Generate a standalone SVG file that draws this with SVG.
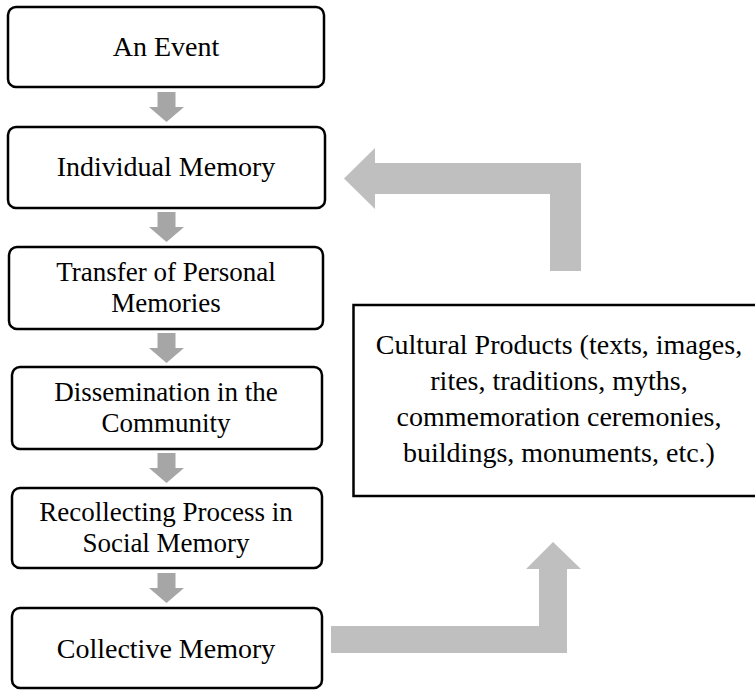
<svg xmlns="http://www.w3.org/2000/svg" width="755" height="690" viewBox="0 0 755 690">
<style>
.box{fill:#fff;stroke:#000;stroke-width:2.5}
.t{font-family:"Liberation Serif","Times New Roman",serif;font-size:28px;fill:#000;text-anchor:middle}
.t2{font-size:27px}
.sa{fill:#a6a6a6}
.ba{fill:#bfbfbf}
</style>
<defs>
<path id="down" d="M-9,0 H9 V15 H17.5 L0,30 L-17.5,15 H-9 Z"/>
</defs>
<rect width="755" height="690" fill="#fff"/>
<g id="connectors">
<use href="#down" class="sa" x="166.5" y="92"/>
<use href="#down" class="sa" x="166.5" y="212"/>
<use href="#down" class="sa" x="166.5" y="333"/>
<use href="#down" class="sa" x="166.5" y="453"/>
<use href="#down" class="sa" x="166.5" y="573"/>
<polygon class="ba" points="344,178.5 375,148 375,163 581,163 581,271 550,271 550,194 375,194 375,209"/>
<polygon class="ba" points="331,626 539,626 539,569 526,569 553,542 581,569 567,569 567,653 331,653"/>
</g>
<g id="n1"><rect class="box" x="8" y="7" width="316" height="80" rx="8"/><text class="t" x="166" y="56">An Event</text></g>
<g id="n2"><rect class="box" x="8" y="127" width="317" height="81" rx="8"/><text class="t" x="166" y="176">Individual Memory</text></g>
<g id="n3"><rect class="box" x="9" y="247" width="314" height="82" rx="8"/><text class="t t2" x="166" y="281">Transfer of Personal</text><text class="t t2" x="166" y="312">Memories</text></g>
<g id="n4"><rect class="box" x="12" y="367" width="310" height="82" rx="8"/><text class="t t2" x="166" y="401">Dissemination in the</text><text class="t t2" x="166" y="432">Community</text></g>
<g id="n5"><rect class="box" x="12" y="488" width="310" height="80" rx="8"/><text class="t t2" x="166" y="521">Recollecting Process in</text><text class="t t2" x="166" y="552">Social Memory</text></g>
<g id="n6"><rect class="box" x="12" y="608" width="310" height="80" rx="8"/><text class="t" x="166" y="658">Collective Memory</text></g>
<g id="n7"><rect class="box" x="353.5" y="305" width="410" height="191"/>
<text class="t" x="559" y="354">Cultural Products (texts, images,</text>
<text class="t" x="559" y="390">rites, traditions, myths,</text>
<text class="t" x="559" y="426">commemoration ceremonies,</text>
<text class="t" x="559" y="462">buildings, monuments, etc.)</text></g>
</svg>
